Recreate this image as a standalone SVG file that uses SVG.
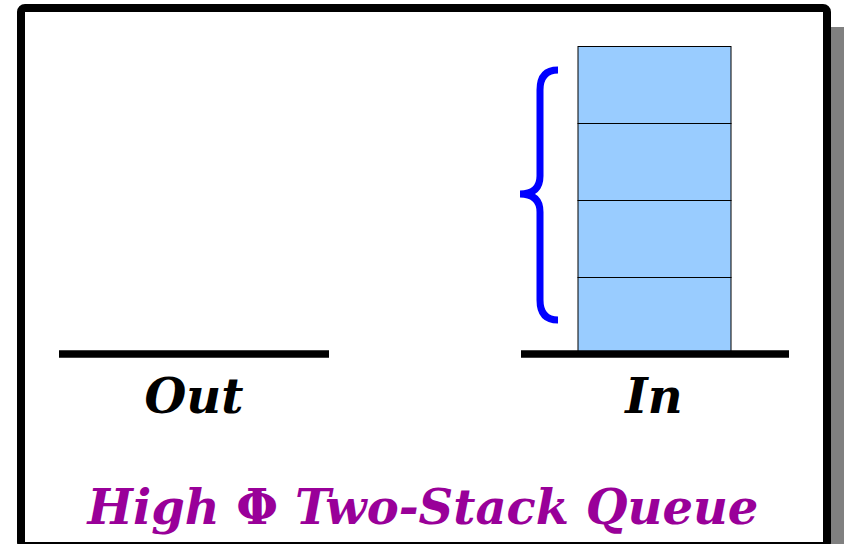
<svg xmlns="http://www.w3.org/2000/svg" width="844" height="544" viewBox="0 0 844 544">
<style>
.lbl{font-family:"DejaVu Serif",serif;font-weight:bold;font-style:italic;font-size:48px;fill:#000;text-anchor:middle}
.title{font-family:"DejaVu Serif",serif;font-weight:bold;font-style:italic;font-size:48px;fill:#990099;text-anchor:middle}
.up{font-style:normal}
.cell{fill:#99ccff;stroke:#000;stroke-width:1}
.base{stroke:#000;stroke-width:7.5}
</style>
<rect width="844" height="544" fill="#fff"/>
<g id="frame">
<rect x="39" y="27" width="810" height="540" fill="#808080"/>
<rect x="21" y="8" width="806" height="538" rx="4" fill="#fff" stroke="#000" stroke-width="8"/>
</g>
<g id="out-stack">
<line class="base" x1="59" y1="354" x2="329" y2="354"/>
<text class="lbl" x="194" y="413">Out</text>
</g>
<g id="in-stack">
<rect class="cell" x="578" y="46.5" width="153" height="77"/>
<rect class="cell" x="578" y="123.5" width="153" height="77"/>
<rect class="cell" x="578" y="200.5" width="153" height="77"/>
<rect class="cell" x="578" y="277.5" width="153" height="75"/>
<line class="base" x1="521" y1="354" x2="789" y2="354"/>
<text class="lbl" x="654" y="413">In</text>
</g>
<g id="brace">
<path d="M558,70 Q540,70 540,90 L540,176 Q540,194 520,194 Q540,194 540,212 L540,300 Q540,320 558,320" fill="none" stroke="#0000ff" stroke-width="7"/>
</g>
<g id="title">
<text class="title" x="423" y="524">High <tspan class="up">Φ</tspan> Two-Stack Queue</text>
</g>
</svg>
